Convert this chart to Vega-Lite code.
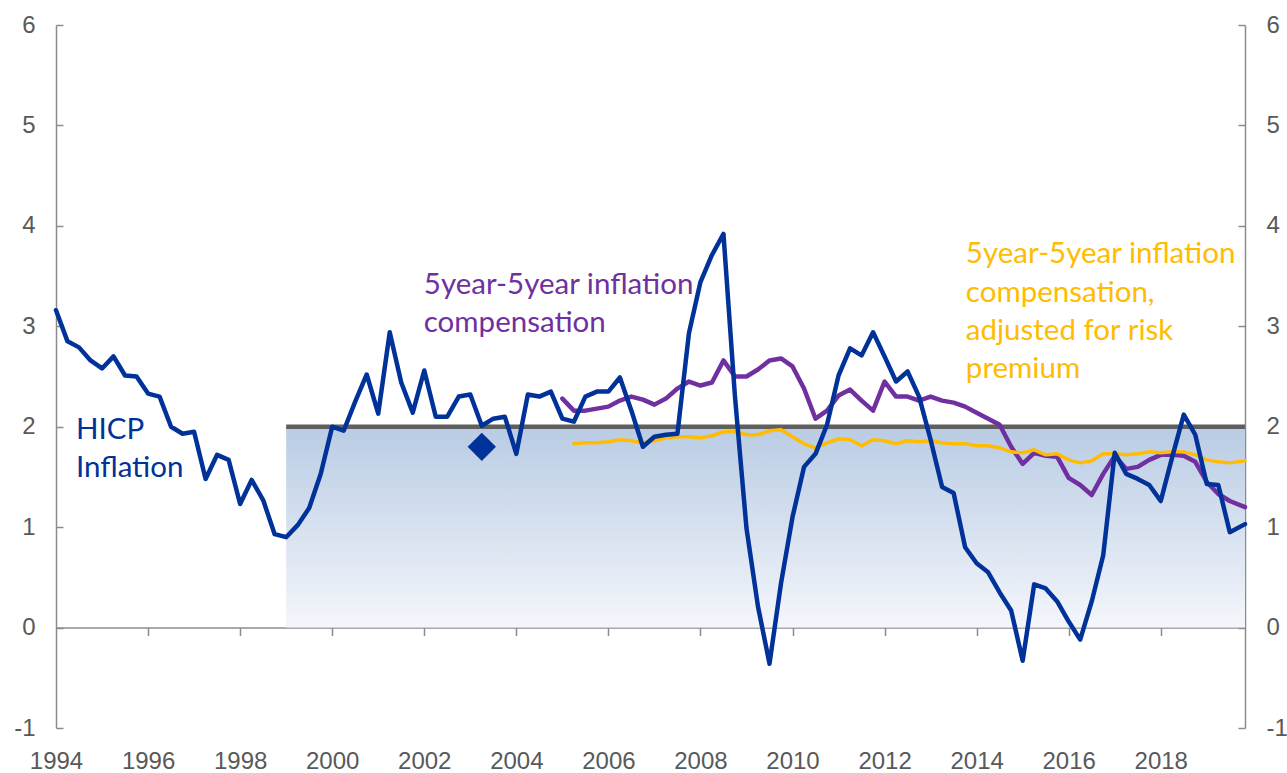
{
  "$schema": "https://vega.github.io/schema/vega-lite/v6.json",
  "autosize": {"type": "none"},
  "padding": {"left": 56, "top": 25, "right": 42, "bottom": 45},
  "width": 1189,
  "height": 703,
  "background": "white",
  "config": {
    "view": {"stroke": null},
    "axis": {
      "labelFont": "Liberation Sans",
      "labelFontSize": 24,
      "labelColor": "#595959",
      "domainColor": "#8c8c8c",
      "tickColor": "#8c8c8c",
      "domainWidth": 1.5,
      "tickWidth": 1.5,
      "grid": false,
      "title": null
    }
  },
  "datasets": {
    "band": [
      {"t": 1999, "lo": 0, "hi": 2},
      {"t": 2019.83, "lo": 0, "hi": 2}
    ],
    "hicp": [
      {"t": 1994.0, "v": 3.16}, {"t": 1994.25, "v": 2.85}, {"t": 1994.5, "v": 2.79}, {"t": 1994.75, "v": 2.66},
      {"t": 1995.0, "v": 2.58}, {"t": 1995.25, "v": 2.70}, {"t": 1995.5, "v": 2.51}, {"t": 1995.75, "v": 2.50},
      {"t": 1996.0, "v": 2.33}, {"t": 1996.25, "v": 2.30}, {"t": 1996.5, "v": 2.00}, {"t": 1996.75, "v": 1.93},
      {"t": 1997.0, "v": 1.95}, {"t": 1997.25, "v": 1.48}, {"t": 1997.5, "v": 1.72}, {"t": 1997.75, "v": 1.67},
      {"t": 1998.0, "v": 1.23}, {"t": 1998.25, "v": 1.47}, {"t": 1998.5, "v": 1.27}, {"t": 1998.75, "v": 0.93},
      {"t": 1999.0, "v": 0.90}, {"t": 1999.25, "v": 1.02}, {"t": 1999.5, "v": 1.19}, {"t": 1999.75, "v": 1.53},
      {"t": 2000.0, "v": 2.00}, {"t": 2000.25, "v": 1.96}, {"t": 2000.5, "v": 2.25}, {"t": 2000.75, "v": 2.52},
      {"t": 2001.0, "v": 2.13}, {"t": 2001.25, "v": 2.94}, {"t": 2001.5, "v": 2.44}, {"t": 2001.75, "v": 2.14},
      {"t": 2002.0, "v": 2.56}, {"t": 2002.25, "v": 2.10}, {"t": 2002.5, "v": 2.10}, {"t": 2002.75, "v": 2.30},
      {"t": 2003.0, "v": 2.32}, {"t": 2003.25, "v": 2.01}, {"t": 2003.5, "v": 2.08}, {"t": 2003.75, "v": 2.10},
      {"t": 2004.0, "v": 1.73}, {"t": 2004.25, "v": 2.32}, {"t": 2004.5, "v": 2.30}, {"t": 2004.75, "v": 2.35},
      {"t": 2005.0, "v": 2.08}, {"t": 2005.25, "v": 2.05}, {"t": 2005.5, "v": 2.30}, {"t": 2005.75, "v": 2.35},
      {"t": 2006.0, "v": 2.35}, {"t": 2006.25, "v": 2.49}, {"t": 2006.5, "v": 2.16}, {"t": 2006.75, "v": 1.80},
      {"t": 2007.0, "v": 1.90}, {"t": 2007.25, "v": 1.92}, {"t": 2007.5, "v": 1.93}, {"t": 2007.75, "v": 2.93},
      {"t": 2008.0, "v": 3.44}, {"t": 2008.25, "v": 3.71}, {"t": 2008.5, "v": 3.92}, {"t": 2008.75, "v": 2.30},
      {"t": 2009.0, "v": 0.99}, {"t": 2009.25, "v": 0.21}, {"t": 2009.5, "v": -0.36}, {"t": 2009.75, "v": 0.44},
      {"t": 2010.0, "v": 1.10}, {"t": 2010.25, "v": 1.60}, {"t": 2010.5, "v": 1.73}, {"t": 2010.75, "v": 2.02},
      {"t": 2011.0, "v": 2.51}, {"t": 2011.25, "v": 2.78}, {"t": 2011.5, "v": 2.71}, {"t": 2011.75, "v": 2.94},
      {"t": 2012.0, "v": 2.70}, {"t": 2012.25, "v": 2.45}, {"t": 2012.5, "v": 2.55}, {"t": 2012.75, "v": 2.30},
      {"t": 2013.0, "v": 1.87}, {"t": 2013.25, "v": 1.40}, {"t": 2013.5, "v": 1.34}, {"t": 2013.75, "v": 0.80},
      {"t": 2014.0, "v": 0.64}, {"t": 2014.25, "v": 0.55}, {"t": 2014.5, "v": 0.35}, {"t": 2014.75, "v": 0.17},
      {"t": 2015.0, "v": -0.33}, {"t": 2015.25, "v": 0.43}, {"t": 2015.5, "v": 0.39}, {"t": 2015.75, "v": 0.26},
      {"t": 2016.0, "v": 0.06}, {"t": 2016.25, "v": -0.12}, {"t": 2016.5, "v": 0.26}, {"t": 2016.75, "v": 0.72},
      {"t": 2017.0, "v": 1.74}, {"t": 2017.25, "v": 1.53}, {"t": 2017.5, "v": 1.48}, {"t": 2017.75, "v": 1.42},
      {"t": 2018.0, "v": 1.26}, {"t": 2018.25, "v": 1.70}, {"t": 2018.5, "v": 2.12}, {"t": 2018.75, "v": 1.92},
      {"t": 2019.0, "v": 1.43}, {"t": 2019.25, "v": 1.42}, {"t": 2019.5, "v": 0.95}, {"t": 2019.83, "v": 1.03}
    ],
    "ilc": [
      {"t": 2005.0, "v": 2.28}, {"t": 2005.25, "v": 2.16}, {"t": 2005.5, "v": 2.16}, {"t": 2005.75, "v": 2.18},
      {"t": 2006.0, "v": 2.20}, {"t": 2006.25, "v": 2.26}, {"t": 2006.5, "v": 2.30}, {"t": 2006.75, "v": 2.27},
      {"t": 2007.0, "v": 2.22}, {"t": 2007.25, "v": 2.28}, {"t": 2007.5, "v": 2.38}, {"t": 2007.75, "v": 2.45},
      {"t": 2008.0, "v": 2.41}, {"t": 2008.25, "v": 2.44}, {"t": 2008.5, "v": 2.66}, {"t": 2008.75, "v": 2.50},
      {"t": 2009.0, "v": 2.50}, {"t": 2009.25, "v": 2.57}, {"t": 2009.5, "v": 2.66}, {"t": 2009.75, "v": 2.68},
      {"t": 2010.0, "v": 2.60}, {"t": 2010.25, "v": 2.38}, {"t": 2010.5, "v": 2.08}, {"t": 2010.75, "v": 2.16},
      {"t": 2011.0, "v": 2.31}, {"t": 2011.25, "v": 2.37}, {"t": 2011.5, "v": 2.26}, {"t": 2011.75, "v": 2.16},
      {"t": 2012.0, "v": 2.45}, {"t": 2012.25, "v": 2.30}, {"t": 2012.5, "v": 2.30}, {"t": 2012.75, "v": 2.26},
      {"t": 2013.0, "v": 2.30}, {"t": 2013.25, "v": 2.26}, {"t": 2013.5, "v": 2.24}, {"t": 2013.75, "v": 2.20},
      {"t": 2014.0, "v": 2.14}, {"t": 2014.25, "v": 2.08}, {"t": 2014.5, "v": 2.02}, {"t": 2014.75, "v": 1.80},
      {"t": 2015.0, "v": 1.63}, {"t": 2015.25, "v": 1.74}, {"t": 2015.5, "v": 1.71}, {"t": 2015.75, "v": 1.70},
      {"t": 2016.0, "v": 1.49}, {"t": 2016.25, "v": 1.42}, {"t": 2016.5, "v": 1.32}, {"t": 2016.75, "v": 1.53},
      {"t": 2017.0, "v": 1.71}, {"t": 2017.25, "v": 1.58}, {"t": 2017.5, "v": 1.60}, {"t": 2017.75, "v": 1.67},
      {"t": 2018.0, "v": 1.72}, {"t": 2018.25, "v": 1.72}, {"t": 2018.5, "v": 1.71}, {"t": 2018.75, "v": 1.65},
      {"t": 2019.0, "v": 1.45}, {"t": 2019.25, "v": 1.33}, {"t": 2019.5, "v": 1.26}, {"t": 2019.83, "v": 1.20}
    ],
    "ilcrp": [
      {"t": 2005.25, "v": 1.83}, {"t": 2005.5, "v": 1.84}, {"t": 2005.75, "v": 1.84},
      {"t": 2006.0, "v": 1.85}, {"t": 2006.25, "v": 1.87}, {"t": 2006.5, "v": 1.86}, {"t": 2006.75, "v": 1.84},
      {"t": 2007.0, "v": 1.86}, {"t": 2007.25, "v": 1.89}, {"t": 2007.5, "v": 1.90}, {"t": 2007.75, "v": 1.90},
      {"t": 2008.0, "v": 1.89}, {"t": 2008.25, "v": 1.91}, {"t": 2008.5, "v": 1.95}, {"t": 2008.75, "v": 1.95},
      {"t": 2009.0, "v": 1.92}, {"t": 2009.25, "v": 1.92}, {"t": 2009.5, "v": 1.96}, {"t": 2009.75, "v": 1.97},
      {"t": 2010.0, "v": 1.90}, {"t": 2010.25, "v": 1.83}, {"t": 2010.5, "v": 1.79}, {"t": 2010.75, "v": 1.84},
      {"t": 2011.0, "v": 1.88}, {"t": 2011.25, "v": 1.87}, {"t": 2011.5, "v": 1.81}, {"t": 2011.75, "v": 1.87},
      {"t": 2012.0, "v": 1.86}, {"t": 2012.25, "v": 1.83}, {"t": 2012.5, "v": 1.86}, {"t": 2012.75, "v": 1.85},
      {"t": 2013.0, "v": 1.86}, {"t": 2013.25, "v": 1.84}, {"t": 2013.5, "v": 1.83}, {"t": 2013.75, "v": 1.83},
      {"t": 2014.0, "v": 1.81}, {"t": 2014.25, "v": 1.81}, {"t": 2014.5, "v": 1.79}, {"t": 2014.75, "v": 1.75},
      {"t": 2015.0, "v": 1.74}, {"t": 2015.25, "v": 1.77}, {"t": 2015.5, "v": 1.72}, {"t": 2015.75, "v": 1.73},
      {"t": 2016.0, "v": 1.67}, {"t": 2016.25, "v": 1.64}, {"t": 2016.5, "v": 1.66}, {"t": 2016.75, "v": 1.73},
      {"t": 2017.0, "v": 1.73}, {"t": 2017.25, "v": 1.72}, {"t": 2017.5, "v": 1.73}, {"t": 2017.75, "v": 1.75},
      {"t": 2018.0, "v": 1.74}, {"t": 2018.25, "v": 1.75}, {"t": 2018.5, "v": 1.75}, {"t": 2018.75, "v": 1.72},
      {"t": 2019.0, "v": 1.67}, {"t": 2019.25, "v": 1.65}, {"t": 2019.5, "v": 1.64}, {"t": 2019.83, "v": 1.66}
    ],
    "marker": [
      {"t": 2003.25, "v": 1.8}
    ],
    "labels": [
      {"t": 1994.434, "v": 1.873, "text": "HICP", "series": "HICP"},
      {"t": 1994.434, "v": 1.500, "text": "Inflation", "series": "HICP"},
      {"t": 2001.99, "v": 3.320, "text": "5year-5year inflation", "series": "ILC"},
      {"t": 2001.99, "v": 2.944, "text": "compensation", "series": "ILC"},
      {"t": 2013.766, "v": 3.628, "text": "5year-5year inflation", "series": "ILCRP"},
      {"t": 2013.766, "v": 3.245, "text": "compensation,", "series": "ILCRP"},
      {"t": 2013.766, "v": 2.862, "text": "adjusted for risk", "series": "ILCRP"},
      {"t": 2013.766, "v": 2.484, "text": "premium", "series": "ILCRP"}
    ]
  },
  "resolve": {"axis": {"x": "independent", "y": "independent"}},
  "layer": [
    {
      "data": {"name": "band"},
      "mark": {
        "type": "area",
        "fill": {
          "gradient": "linear",
          "x1": 0, "y1": 0, "x2": 0, "y2": 1,
          "stops": [
            {"offset": 0, "color": "#b9cce4"},
            {"offset": 1, "color": "#f4f6fb"}
          ]
        }
      },
      "encoding": {
        "x": {
          "field": "t", "type": "quantitative",
          "scale": {"domain": [1994, 2019.83], "nice": false, "zero": false},
          "axis": {
            "orient": "bottom",
            "values": [1994, 1996, 1998, 2000, 2002, 2004, 2006, 2008, 2010, 2012, 2014, 2016, 2018],
            "labelExpr": "'' + datum.value",
            "domain": false,
            "ticks": false,
            "labelPadding": 21,
            "labelFlush": false,
            "labelOverlap": false
          }
        },
        "y": {
          "field": "hi", "type": "quantitative",
          "scale": {"domain": [-1, 6], "nice": false, "zero": false},
          "axis": {
            "orient": "left",
            "values": [-1, 0, 1, 2, 3, 4, 5, 6],
            "labelExpr": "'' + datum.value",
            "tickSize": -7,
            "labelPadding": 28
          }
        },
        "y2": {"field": "lo"}
      }
    },
    {
      "data": {"name": "band"},
      "mark": {"type": "line", "color": "#5f5f5f", "strokeWidth": 4.5},
      "encoding": {
        "x": {
          "field": "t", "type": "quantitative",
          "scale": {"domain": [1994, 2019.83], "nice": false, "zero": false},
          "axis": {
            "orient": "bottom",
            "offset": -100.43,
            "values": [1996, 1998, 2000, 2002, 2004, 2006, 2008, 2010, 2012, 2014, 2016, 2018],
            "labels": false,
            "tickSize": 8
          }
        },
        "y": {
          "field": "hi", "type": "quantitative",
          "scale": {"domain": [-1, 6], "nice": false, "zero": false},
          "axis": {
            "orient": "right",
            "values": [-1, 0, 1, 2, 3, 4, 5, 6],
            "labelExpr": "'' + datum.value",
            "tickSize": -7,
            "labelPadding": 28
          }
        }
      }
    },
    {
      "data": {"name": "ilc"},
      "mark": {"type": "line", "color": "#7030a0", "strokeWidth": 4.5, "strokeJoin": "round", "strokeCap": "round"},
      "encoding": {
        "x": {"field": "t", "type": "quantitative", "scale": {"domain": [1994, 2019.83], "nice": false, "zero": false}, "axis": null},
        "y": {"field": "v", "type": "quantitative", "scale": {"domain": [-1, 6], "nice": false, "zero": false}, "axis": null}
      }
    },
    {
      "data": {"name": "ilcrp"},
      "mark": {"type": "line", "color": "#ffbc00", "strokeWidth": 3.5, "strokeJoin": "round", "strokeCap": "round"},
      "encoding": {
        "x": {"field": "t", "type": "quantitative", "scale": {"domain": [1994, 2019.83], "nice": false, "zero": false}, "axis": null},
        "y": {"field": "v", "type": "quantitative", "scale": {"domain": [-1, 6], "nice": false, "zero": false}, "axis": null}
      }
    },
    {
      "data": {"name": "hicp"},
      "mark": {"type": "line", "color": "#003299", "strokeWidth": 4.5, "strokeJoin": "round", "strokeCap": "round"},
      "encoding": {
        "x": {"field": "t", "type": "quantitative", "scale": {"domain": [1994, 2019.83], "nice": false, "zero": false}, "axis": null},
        "y": {"field": "v", "type": "quantitative", "scale": {"domain": [-1, 6], "nice": false, "zero": false}, "axis": null}
      }
    },
    {
      "data": {"name": "marker"},
      "mark": {"type": "point", "shape": "diamond", "filled": true, "size": 800, "color": "#003299", "opacity": 1},
      "encoding": {
        "x": {"field": "t", "type": "quantitative", "scale": {"domain": [1994, 2019.83], "nice": false, "zero": false}, "axis": null},
        "y": {"field": "v", "type": "quantitative", "scale": {"domain": [-1, 6], "nice": false, "zero": false}, "axis": null}
      }
    },
    {
      "data": {"name": "labels"},
      "mark": {"type": "text", "font": "Lato", "fontSize": 29.5, "align": "left", "baseline": "alphabetic"},
      "encoding": {
        "x": {"field": "t", "type": "quantitative", "scale": {"domain": [1994, 2019.83], "nice": false, "zero": false}, "axis": null},
        "y": {"field": "v", "type": "quantitative", "scale": {"domain": [-1, 6], "nice": false, "zero": false}, "axis": null},
        "text": {"field": "text"},
        "color": {
          "field": "series", "type": "nominal",
          "scale": {"domain": ["HICP", "ILC", "ILCRP"], "range": ["#003299", "#7030a0", "#ffbc00"]},
          "legend": null
        }
      }
    }
  ]
}
